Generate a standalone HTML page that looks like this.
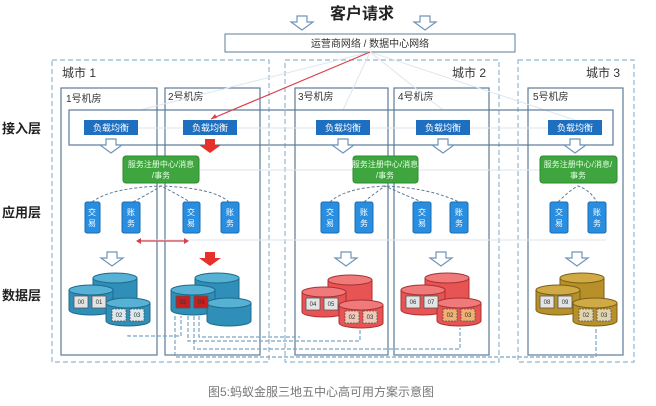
<!DOCTYPE html>
<html><head><meta charset="utf-8"><style>
body{margin:0;background:#fff}
svg{display:block;font-family:"Liberation Sans","Noto Sans CJK SC",sans-serif}
</style></head><body>
<svg width="656" height="406" viewBox="0 0 656 406" xmlns="http://www.w3.org/2000/svg">
<defs>
<g id="oarrow"><path d="M-5,0 h10 v6 h6 l-11,8 l-11,-8 h6 z" fill="#fff" stroke="#6f94b8" stroke-width="1.2"/></g>
<g id="rarrow"><path d="M-5,0 h10 v6 h6 l-11,8 l-11,-8 h6 z" fill="#e8302a"/></g>
</defs>
<!-- title -->
<text x="362" y="19" font-size="16" font-weight="bold" text-anchor="middle" fill="#222">客户请求</text>
<use href="#oarrow" x="302" y="16"/>
<use href="#oarrow" x="425" y="16"/>
<rect x="225" y="34" width="290" height="18" fill="#fff" stroke="#5b7c99"/>
<text x="370" y="47" font-size="10" text-anchor="middle" fill="#333">运营商网络 / 数据中心网络</text>
<!-- cities -->
<g fill="none" stroke="#8fb8d4" stroke-dasharray="5,3" stroke-width="1.2">
<rect x="52" y="60" width="217" height="302"/>
<rect x="285" y="60" width="214" height="302"/>
<rect x="518" y="60" width="116" height="302"/>
</g>
<text x="62" y="77" font-size="12" fill="#333">城市 1</text>
<text x="452" y="77" font-size="12" fill="#333">城市 2</text>
<text x="586" y="77" font-size="12" fill="#333">城市 3</text>
<!-- rooms -->
<g fill="none" stroke="#5b7c99" stroke-width="1.2">
<rect x="61" y="88" width="96" height="267"/>
<rect x="165" y="88" width="95" height="267"/>
<rect x="295" y="88" width="93" height="267"/>
<rect x="394" y="88" width="95" height="267"/>
<rect x="528" y="88" width="95" height="267"/>
</g>
<g font-size="10" fill="#333">
<text x="66" y="102">1号机房</text><text x="168" y="100">2号机房</text>
<text x="298" y="100">3号机房</text><text x="398" y="100">4号机房</text><text x="533" y="100">5号机房</text>
</g>
<!-- faint lines from network -->
<g stroke="#dde6ee" stroke-width="1">
<line x1="370" y1="52" x2="140" y2="110"/><line x1="370" y1="52" x2="343" y2="110"/>
<line x1="370" y1="52" x2="443" y2="110"/><line x1="370" y1="52" x2="575" y2="120"/>
<line x1="138" y1="128" x2="548" y2="128"/>
<line x1="199" y1="170" x2="540" y2="170"/>
<line x1="140" y1="240" x2="606" y2="240"/>
</g>
<!-- access band -->
<rect x="69" y="110" width="544" height="35" fill="none" stroke="#5b7c99" stroke-width="1.2"/>
<line x1="370" y1="52" x2="211" y2="119" stroke="#d9404a" stroke-width="1.2"/>
<path d="M211,119 l6,-1 l-2,-4 z" fill="#d9404a"/>
<g fill="#1f6fc0">
<rect x="84" y="120" width="54" height="15"/><rect x="183" y="120" width="54" height="15"/>
<rect x="316" y="120" width="54" height="15"/><rect x="416" y="120" width="54" height="15"/>
<rect x="548" y="120" width="54" height="15"/>
</g>
<g font-size="9" fill="#fff" text-anchor="middle">
<text x="111" y="131">负载均衡</text><text x="210" y="131">负载均衡</text>
<text x="343" y="131">负载均衡</text><text x="443" y="131">负载均衡</text><text x="575" y="131">负载均衡</text>
</g>
<use href="#oarrow" x="111" y="139"/><use href="#rarrow" x="210" y="139"/>
<use href="#oarrow" x="343" y="139"/><use href="#oarrow" x="443" y="139"/><use href="#oarrow" x="575" y="139"/>
<!-- green -->
<g fill="#3fa63f" stroke="#2e8a2e">
<rect x="123" y="156" width="76" height="27" rx="3"/>
<rect x="353" y="156" width="65" height="27" rx="3"/>
<rect x="540" y="156" width="77" height="27" rx="3"/>
</g>
<g font-size="8" fill="#e8ffe8" text-anchor="middle">
<text x="161" y="167">服务注册中心/消息</text><text x="161" y="178">/事务</text>
<text x="385" y="167">服务注册中心/消息</text><text x="385" y="178">/事务</text>
<text x="578" y="167">服务注册中心/消息/</text><text x="578" y="178">事务</text>
</g>
<!-- dashed arcs -->
<g fill="none" stroke="#5b7c99" stroke-dasharray="3,2" stroke-width="1">
<path d="M92,202 Q110,188 161,186 Q214,188 229,202"/>
<path d="M133,202 Q150,193 161,186 Q175,193 190,202"/>
<path d="M330,202 Q345,188 385,186 Q430,188 459,202"/>
<path d="M364,202 Q375,193 385,186 Q400,193 422,202"/>
<path d="M558,202 Q570,190 578,186 Q590,190 597,202"/>
</g>
<!-- apps -->
<g fill="#2a8ee0" stroke="#1a6cb0">
<rect x="85" y="202" width="15" height="31" rx="2"/><rect x="122" y="202" width="18" height="31" rx="2"/>
<rect x="183" y="202" width="17" height="31" rx="2"/><rect x="221" y="202" width="18" height="31" rx="2"/>
<rect x="321" y="202" width="18" height="31" rx="2"/><rect x="355" y="202" width="18" height="31" rx="2"/>
<rect x="413" y="202" width="18" height="31" rx="2"/><rect x="450" y="202" width="18" height="31" rx="2"/>
<rect x="550" y="202" width="18" height="31" rx="2"/><rect x="588" y="202" width="18" height="31" rx="2"/>
</g>
<g font-size="8" fill="#fff" text-anchor="middle">
<text x="92" y="215">交</text><text x="92" y="226">易</text><text x="131" y="215">账</text><text x="131" y="226">务</text>
<text x="191" y="215">交</text><text x="191" y="226">易</text><text x="230" y="215">账</text><text x="230" y="226">务</text>
<text x="330" y="215">交</text><text x="330" y="226">易</text><text x="364" y="215">账</text><text x="364" y="226">务</text>
<text x="422" y="215">交</text><text x="422" y="226">易</text><text x="459" y="215">账</text><text x="459" y="226">务</text>
<text x="559" y="215">交</text><text x="559" y="226">易</text><text x="597" y="215">账</text><text x="597" y="226">务</text>
</g>
<line x1="138" y1="241" x2="187" y2="241" stroke="#d9404a" stroke-width="1.2"/>
<path d="M136,241 l5,-3 v6 z M189,241 l-5,-3 v6 z" fill="#d9404a"/>
<use href="#oarrow" x="112" y="252"/><use href="#rarrow" x="210" y="252"/>
<use href="#oarrow" x="346" y="252"/><use href="#oarrow" x="441" y="252"/><use href="#oarrow" x="577" y="252"/>
<!-- layer labels -->
<g font-size="13" font-weight="bold" fill="#222">
<text x="2" y="133">接入层</text><text x="2" y="217">应用层</text><text x="2" y="300">数据层</text>
</g>
<!-- DB connections -->
<g fill="none" stroke="#7aa3c4" stroke-dasharray="4,2" stroke-width="1.2">
<path d="M128,335 V336 H181 V316"/>
<path d="M188,316 V341 H360 V328"/>
<path d="M194,316 V349 H460 V328"/>
<path d="M199,316 V337 H300"/>
<path d="M175,316 V357 H596 V328"/>
</g>
<!-- cylinders -->
<g id="db" stroke-width="1">
<!-- room1 blue -->
<path d="M93,278 v22 a22,5 0 0 0 44,0 v-22" fill="#2f8fb8" stroke="#1d6a8c"/><ellipse cx="115" cy="278" rx="22" ry="5" fill="#56b1d4" stroke="#1d6a8c"/>
<path d="M69,290 v20 a22,5 0 0 0 44,0 v-20" fill="#2f8fb8" stroke="#1d6a8c"/><ellipse cx="91" cy="290" rx="22" ry="5" fill="#56b1d4" stroke="#1d6a8c"/>
<path d="M106,303 v18 a22,5 0 0 0 44,0 v-18" fill="#2f8fb8" stroke="#1d6a8c"/><ellipse cx="128" cy="303" rx="22" ry="5" fill="#56b1d4" stroke="#1d6a8c"/>
<!-- room2 -->
<path d="M195,278 v22 a22,5 0 0 0 44,0 v-22" fill="#2f8fb8" stroke="#1d6a8c"/><ellipse cx="217" cy="278" rx="22" ry="5" fill="#56b1d4" stroke="#1d6a8c"/>
<path d="M171,290 v20 a22,5 0 0 0 44,0 v-20" fill="#2f8fb8" stroke="#1d6a8c"/><ellipse cx="193" cy="290" rx="22" ry="5" fill="#56b1d4" stroke="#1d6a8c"/>
<path d="M207,303 v18 a22,5 0 0 0 44,0 v-18" fill="#2f8fb8" stroke="#1d6a8c"/><ellipse cx="229" cy="303" rx="22" ry="5" fill="#56b1d4" stroke="#1d6a8c"/>
<!-- room3 red -->
<path d="M328,280 v22 a22,5 0 0 0 44,0 v-22" fill="#e85454" stroke="#a83030"/><ellipse cx="350" cy="280" rx="22" ry="5" fill="#f07a7a" stroke="#a83030"/>
<path d="M302,292 v20 a22,5 0 0 0 44,0 v-20" fill="#e85454" stroke="#a83030"/><ellipse cx="324" cy="292" rx="22" ry="5" fill="#f07a7a" stroke="#a83030"/>
<path d="M339,305 v18 a22,5 0 0 0 44,0 v-18" fill="#e85454" stroke="#a83030"/><ellipse cx="361" cy="305" rx="22" ry="5" fill="#f07a7a" stroke="#a83030"/>
<!-- room4 red -->
<path d="M425,278 v22 a22,5 0 0 0 44,0 v-22" fill="#e85454" stroke="#a83030"/><ellipse cx="447" cy="278" rx="22" ry="5" fill="#f07a7a" stroke="#a83030"/>
<path d="M401,290 v20 a22,5 0 0 0 44,0 v-20" fill="#e85454" stroke="#a83030"/><ellipse cx="423" cy="290" rx="22" ry="5" fill="#f07a7a" stroke="#a83030"/>
<path d="M437,303 v18 a22,5 0 0 0 44,0 v-18" fill="#e85454" stroke="#a83030"/><ellipse cx="459" cy="303" rx="22" ry="5" fill="#f07a7a" stroke="#a83030"/>
<!-- room5 gold -->
<path d="M560,278 v22 a22,5 0 0 0 44,0 v-22" fill="#b8902a" stroke="#7a5e18"/><ellipse cx="582" cy="278" rx="22" ry="5" fill="#d0aa44" stroke="#7a5e18"/>
<path d="M536,290 v20 a22,5 0 0 0 44,0 v-20" fill="#b8902a" stroke="#7a5e18"/><ellipse cx="558" cy="290" rx="22" ry="5" fill="#d0aa44" stroke="#7a5e18"/>
<path d="M573,303 v18 a22,5 0 0 0 44,0 v-18" fill="#b8902a" stroke="#7a5e18"/><ellipse cx="595" cy="303" rx="22" ry="5" fill="#d0aa44" stroke="#7a5e18"/>
</g>
<!-- shards -->
<g stroke="#555" stroke-width="0.8" font-size="6" text-anchor="middle">
<rect x="74" y="296" width="14" height="12" fill="#e4e4e4"/><rect x="92" y="296" width="14" height="12" fill="#e4e4e4"/>
<rect x="112" y="309" width="14" height="12" fill="#dde8ee" stroke-dasharray="2,1"/><rect x="130" y="309" width="14" height="12" fill="#dde8ee" stroke-dasharray="2,1"/>
<rect x="176" y="296" width="14" height="12" fill="#c82020"/><rect x="194" y="296" width="14" height="12" fill="#c82020"/>
<rect x="306" y="298" width="14" height="12" fill="#e4e4e4"/><rect x="324" y="298" width="14" height="12" fill="#e4e4e4"/>
<rect x="345" y="311" width="14" height="12" fill="#f0c8b8" stroke-dasharray="2,1"/><rect x="363" y="311" width="14" height="12" fill="#f0c8b8" stroke-dasharray="2,1"/>
<rect x="406" y="296" width="14" height="12" fill="#e4e4e4"/><rect x="424" y="296" width="14" height="12" fill="#e4e4e4"/>
<rect x="443" y="309" width="14" height="12" fill="#f0b070" stroke-dasharray="2,1"/><rect x="461" y="309" width="14" height="12" fill="#f0b070" stroke-dasharray="2,1"/>
<rect x="540" y="296" width="14" height="12" fill="#e4e4e4"/><rect x="558" y="296" width="14" height="12" fill="#e4e4e4"/>
<rect x="579" y="309" width="14" height="12" fill="#e0d4b0" stroke-dasharray="2,1"/><rect x="597" y="309" width="14" height="12" fill="#e0d4b0" stroke-dasharray="2,1"/>
</g>
<g font-size="6" text-anchor="middle" fill="#333">
<text x="81" y="304">00</text><text x="99" y="304">01</text><text x="119" y="317">02</text><text x="137" y="317">03</text>
<text x="183" y="304">02</text><text x="201" y="304">03</text>
<text x="313" y="306">04</text><text x="331" y="306">05</text><text x="352" y="319">02</text><text x="370" y="319">03</text>
<text x="413" y="304">06</text><text x="431" y="304">07</text><text x="450" y="317">02</text><text x="468" y="317">03</text>
<text x="547" y="304">08</text><text x="565" y="304">09</text><text x="586" y="317">02</text><text x="604" y="317">03</text>
</g>
<text x="321" y="396" font-size="12" text-anchor="middle" fill="#777">图5:蚂蚁金服三地五中心高可用方案示意图</text>
</svg>
</body></html>
